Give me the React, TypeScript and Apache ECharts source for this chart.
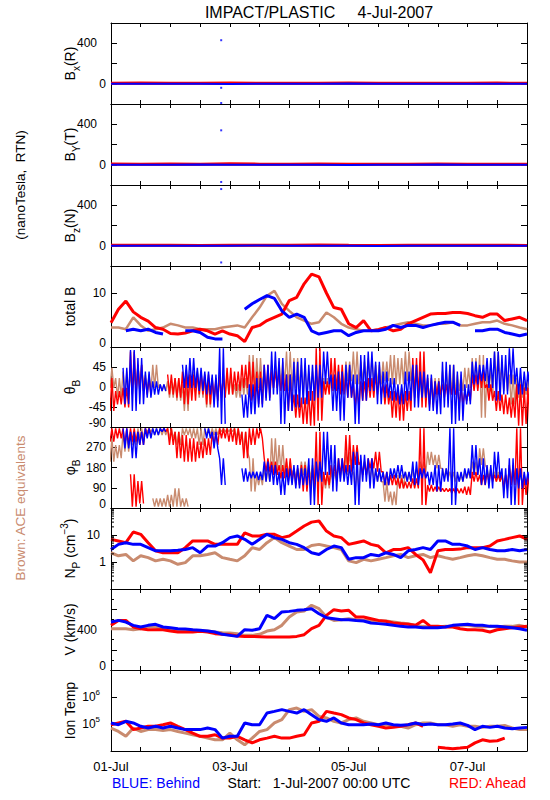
import React, { useEffect, useRef } from 'react';
import * as echarts from 'echarts';

const BLUE = '#0000ff';
const RED = '#ff0000';
const BROWN = '#c98b6f';
const FONT = "'Liberation Sans', Arial, Helvetica, sans-serif";

const STEP_H = 3; // sampling step of the field / plasma series (hours)
const B_STEP_H = 12; // sampling step of the RTN component series (hours)
const X_MAX_H = 168;
const X_TICK_H = 12;
const DATE_TICK_HOURS = [0, 48, 96, 144];
const DATE_TICK_LABELS = ['01-Jul', '03-Jul', '05-Jul', '07-Jul'];

// ---- RTN components (nT), every 12 h ----
const bxBlue = [0, -1, 1, 0, -2, 1, 0, -1, 2, 0, 1, -1, 0, 1, 0];
const bxRed = [5, 7, 4, 6, 8, 5, 4, 6, 7, 5, 4, 6, 5, 7, 4];
const bxBrown = [2, 3, 1, 2, 4, 2, 1, 3, 2, 1, 2, 3, 2, 1, 2];
const byBlue = [1, 0, -1, 2, 0, -1, 1, 0, -2, 1, 0, 2, -1, 0, 1];
const byRed = [8, 6, 7, 5, 9, 6, 5, 7, 4, 6, 5, 7, 6, 5, 6];
const byBrown = [3, 2, 4, 3, 2, 1, 3, 2, 4, 3, 2, 3, 1, 2, 3];
const bzBlue = [-1, 0, 1, -1, 0, 2, -1, 0, 1, -2, 0, 1, 0, -1, 0];
const bzRed = [4, 6, 5, 3, 6, 4, 5, 7, 4, 3, 5, 6, 4, 5, 3];
const bzBrown = [1, 2, 3, 1, 2, 1, 2, 3, 1, 2, 1, 2, 3, 1, 2];
const SPIKE_HOUR = 44.5;
const bxSpikes = [430, -40, -190];
const bySpikes = [340, -170];
const bzSpikes = [560, -165];

// ---- total B (nT), every 3 h ----
const totalBRed = [4.5, 7.0, 8.5, 6.5, 5.5, 4.8, 3.6, 3.3, 2.5, 2.4, 2.6, 3.0, 3.3, 3.0, 2.4, 3.0, 2.4, 2.1, 1.0, 3.6, 4.0, 4.9, 5.5, 6.1, 8.6, 9.2, 11.7, 13.5, 13.0, 10.0, 7.3, 7.0, 4.3, 3.6, 4.9, 3.0, 3.2, 3.6, 3.0, 3.3, 4.3, 4.9, 5.5, 6.1, 6.2, 6.2, 6.4, 6.4, 6.2, 5.8, 5.5, 6.1, 6.1, 4.9, 5.2, 5.5, 4.9];
const totalBBlue = [null, null, 3.0, 3.3, 3.0, 3.3, 2.7, 2.4, null, null, 3.0, 3.0, 2.7, 1.8, 1.5, 1.5, null, null, 7.0, 8.0, 8.8, 9.5, 9.0, 6.7, 5.5, 6.1, 5.5, 3.0, 2.4, 2.7, 3.0, 3.0, 2.1, 2.7, 3.0, 3.0, 3.0, 3.3, 4.0, 3.6, 4.0, 4.0, 3.6, 4.0, 4.3, 4.6, 4.6, 4.0, null, 3.0, 3.0, 3.3, 3.3, 2.7, 2.4, 2.1, 2.4];
const totalBBrown = [3.6, 3.6, 3.3, 5.5, 4.0, 3.0, 3.3, 3.6, 4.3, 4.0, 3.6, 3.6, 3.3, 3.3, 3.3, 3.6, 3.8, 4.0, 3.6, 5.5, 7.3, 9.5, 10.4, 8.0, 6.7, 5.5, 4.9, 4.3, 4.6, 6.4, 5.5, 4.3, 3.6, 3.3, 3.0, 3.0, 3.3, 3.6, 4.0, 4.3, 4.6, 4.3, 4.0, 4.0, 4.3, 4.3, 4.6, 4.0, 4.0, 4.3, 4.6, 4.6, 4.9, 4.3, 4.0, 3.6, 3.3];

// ---- theta_B (deg): upper / lower envelope per 3 h ----
const thetaRedHi = [20, -9, -2, 80, 50, 20, null, null, 28, 20, 35, 28, 35, 28, 20, 28, 43, 35, 50, 57, 35, 50, 35, 35, 28, -17, -24, -9, 87, 13, 65, 50, 28, 6, 13, 20, 28, 6, -9, -2, -9, 65, 80, 20, 13, 6, 13, -2, -9, 28, 35, 6, -9, -17, -24, 6, -2];
const thetaRedLo = [-54, -39, -46, -17, -9, -17, null, null, -17, -24, -39, -31, -17, -39, -31, -24, -17, -9, -2, -31, -39, -24, -2, -9, -54, -69, -83, -87, -76, -17, -9, -17, -24, -46, -31, -24, -17, -39, -69, -76, -54, -24, -46, -39, -17, -24, -17, -39, -31, -9, -2, -31, -54, -61, -69, -87, -83];
const thetaBlueHi = [null, null, 43, 83, 65, 35, 13, 6, null, null, 50, 65, 43, 35, 28, 87, null, null, -17, 6, 20, 50, 80, 65, 28, 57, 65, 50, 50, 80, 28, 35, 50, 28, 72, 80, 57, 35, 20, 6, 35, 50, 35, 28, 13, 57, 50, 35, 6, 57, 50, 65, 80, 72, 87, 43, 35];
const thetaBlueLo = [null, null, -39, -54, -39, -24, -17, -9, null, null, -2, -2, -9, -17, -46, -83, null, null, -69, -61, -46, -31, -17, -83, -54, -46, -39, -31, -24, 6, -54, -76, -24, -83, -31, -9, -39, -24, -31, -39, -31, -46, -24, -54, -61, -46, -83, -76, -39, 6, 13, -2, -31, -17, 6, -17, -9];
const thetaBrownHi = [43, 20, 35, 28, 50, 28, 50, 6, 13, 20, 6, 35, 28, 20, 13, 20, 28, 6, 20, 72, 65, 35, 50, 57, 80, 65, 50, 35, 28, 20, 28, 35, 57, 80, 57, 65, 50, 57, 72, 65, 80, 50, 20, 13, 20, 35, 50, 28, 43, 65, 72, 50, 80, 50, 28, 20, 13];
const thetaBrownLo = [-2, -24, -17, -2, -2, -9, -2, -9, -24, -31, -54, -9, -24, -46, -24, -17, -17, -24, -17, -9, -2, -9, -2, 6, -9, -2, -17, -9, -2, -9, -2, -9, 13, 6, 13, 13, 6, 13, 6, 6, 13, -9, -31, -46, -24, -17, -17, -9, -2, -2, -69, -24, 13, -9, -39, -24, -17];

// ---- phi_B (deg): upper / lower envelope per 3 h ----
const phiRedHi = [354, 354, 354, 354, 339, 354, null, 354, 354, 339, 324, 310, 295, 310, 339, 354, 354, 354, 339, 354, 354, 221, 206, 191, 221, 176, 191, 176, 339, 161, 191, 221, 324, 280, 206, 221, 250, 161, 147, 132, 117, 132, 354, 102, 95, 87, 87, 87, 95, 161, 147, 161, 147, 147, 191, 354, 147];
const phiRedLo = [295, 310, 280, 295, 280, 324, null, 339, 280, 221, 206, 206, 221, 236, 280, 310, 295, 280, 221, 280, 310, 161, 147, 132, 117, 102, 73, 87, 13, 102, 132, 147, 161, 191, 147, 176, 161, 102, 102, 87, 87, 87, 13, 73, 73, 73, 65, 65, 58, 117, 102, 117, 117, 87, 102, 13, 58];
const phiBlueHi = [null, null, 354, 339, 339, 354, 354, 354, null, null, null, null, null, 354, 339, 221, null, null, 176, 161, 161, 206, 191, 161, 176, 191, 176, 221, 206, 339, 280, 221, 191, 250, 236, 221, 176, 161, 176, 191, 161, 206, 176, 161, 191, 176, 354, 161, 176, 280, 221, 191, 250, 176, 221, 176, 161];
const phiBlueLo = [null, null, 265, 221, 280, 310, 324, 339, null, null, null, null, null, 310, 265, 102, null, null, 117, 132, 124, 117, 102, 58, 102, 87, 102, 13, 117, 147, 73, 117, 102, 13, 117, 87, 117, 102, 132, 132, 117, 102, 132, 102, 73, 117, 13, 117, 132, 147, 102, 87, 132, 43, 13, 87, 102];
const phiBrownHi = [310, 280, 339, 324, 354, 354, 354, 354, 354, 339, 354, 354, 354, 354, 354, 354, 354, 354, 339, 221, 147, 176, 310, 280, 206, 176, 206, 191, 161, 147, 161, 191, 250, 161, 206, 191, 161, 117, 73, 147, 161, 176, 206, 250, 236, 176, 161, 147, 161, 206, 265, 176, 161, 147, 176, 161, 147];
const phiBrownLo = [206, 221, 250, 280, 310, 339, 324, 324, 310, 280, 324, 310, 280, 324, 324, 339, 339, 310, 250, 73, 102, 117, 161, 161, 147, 132, 147, 132, 117, 87, 117, 132, 147, 87, 147, 132, 117, 28, 13, 87, 117, 132, 161, 191, 176, 132, 117, 117, 132, 147, 191, 132, 117, 102, 117, 102, 102];
// wrapped-around (near 0 deg) parts early in the interval
const PHI_RED_WRAP_START_BIN = 3;
const phiRedWrapHi = [150, 120];
const phiRedWrapLo = [6, 20];
const PHI_BROWN_WRAP_START_BIN = 6;
const phiBrownWrapHi = [43, 43, 58, 87, 43];
const phiBrownWrapLo = [6, 6, 6, 6, 6];

// ---- proton density (cm^-3), every 3 h ----
const npRed = [6.9, 6.0, 5.2, 12.9, 10.6, 5.2, 2.6, 2.2, 2.2, 2.2, 3.4, 6.0, 6.0, 6.0, 4.5, 4.5, 4.5, 4.5, 12, 9.2, 9.2, 10.6, 10.6, 8.0, 9.2, 14, 21.5, 30, 33, 14, 9.2, 8.0, 4.5, 5.2, 6.0, 4.5, 3.9, 2.2, 2.9, 2.9, 3.4, 1.9, 1.2, 0.4, 2.6, 2.9, 2.9, 3.0, 3.4, 3.4, 3.4, 3.9, 6.0, 6.9, 8.0, 9.2, 6.9];
const npBlue = [2.9, 4.5, 5.2, 4.5, 4.5, 3.4, 2.6, 2.6, 2.6, 2.7, 2.9, 3.4, 2.2, 3.9, 3.9, 5.2, 8.0, 9.2, 6.9, 4.5, 6.9, 10.6, 8.0, 6.9, 5.2, 4.5, 3.4, 2.2, 1.9, 2.9, 3.9, 3.4, 1.26, 1.45, 1.45, 1.9, 1.7, 2.2, 1.9, 1.45, 2.6, 2.9, 3.4, 2.9, 6.0, 6.0, 4.5, 4.5, 3.9, 2.9, 3.4, 2.9, 2.6, 2.6, 2.9, 2.6, 2.9];
const npBrown = [2.2, 1.7, 1.9, 1.1, 1.7, 1.45, 1.1, 1.26, 1.1, 0.82, 0.95, 1.7, 1.7, 1.9, 2.2, 1.45, 1.26, 1.1, 1.7, 3.4, 2.9, 5.2, 8.0, 5.2, 3.9, 2.9, 2.9, 4.1, 4.5, 3.9, 3.4, 2.9, 1.1, 0.95, 1.26, 1.1, 1.26, 1.45, 1.7, 1.9, 1.45, 1.7, 1.9, 1.45, 1.7, 1.45, 1.26, 1.45, 1.7, 1.9, 1.7, 1.45, 1.26, 1.26, 1.1, 1.0, 1.0];
const npMinorTicks = [0.2, 0.3, 0.4, 0.5, 0.6, 0.7, 0.8, 0.9, 2, 3, 4, 5, 6, 7, 8, 9, 20, 30, 40, 50, 60, 70, 80, 90];

// ---- bulk speed (km/s), every 3 h ----
const vRed = [441, 490, 490, 425, 408, 398, 398, 398, 385, 375, 375, 375, 382, 375, 359, 352, 349, 336, 332, 332, 329, 326, 326, 326, 326, 332, 349, 408, 441, 540, 596, 583, 589, 523, 523, 507, 490, 481, 464, 458, 451, 441, 490, 431, 431, 425, 425, 408, 398, 398, 392, 375, 398, 408, 418, 425, 431];
const vBlue = [474, 490, 474, 441, 425, 441, 451, 425, 418, 408, 405, 398, 392, 385, 375, 352, 342, 332, 398, 392, 408, 540, 507, 573, 579, 589, 596, 606, 556, 517, 507, 497, 497, 490, 484, 464, 458, 451, 441, 431, 425, 425, 418, 418, 418, 425, 441, 448, 451, 441, 441, 431, 431, 425, 418, 408, 392];
const vBrown = [408, 408, 408, 398, 408, 431, 425, 408, 398, 392, 392, 392, 385, 385, 375, 369, 365, 359, 342, 342, 352, 385, 398, 441, 523, 573, 583, 639, 606, 523, 490, 497, 507, 497, 490, 490, 484, 484, 474, 464, 458, 441, 431, 425, 425, 431, 431, 441, 441, 431, 425, 431, 425, 431, 431, 441, 425];

// ---- ion temperature (K), every 3 h ----
const tRed = [9.4e4, 1.09e5, 1.26e5, 6.2e4, 7.1e4, 8.2e4, 8.2e4, 9.4e4, 1.09e5, 8.2e4, 6.2e4, 4.6e4, 3.5e4, 3.5e4, 4.0e4, 3.0e4, 3.0e4, 3.5e4, 2.6e4, 2.0e4, 2.6e4, 3.0e4, 3.5e4, 3.0e4, 3.0e4, 3.5e4, 4.0e4, 1.09e5, 1.26e5, 2.94e5, 2.55e5, 2.22e5, 1.67e5, 1.45e5, 1.09e5, 9.4e4, 8.2e4, 7.1e4, 7.5e4, 8.2e4, 9.4e4, 1.09e5, 8.2e4, null, 1.37e4, 1.29e4, 1.22e4, 1.29e4, 1.37e4, 2.0e4, 2.6e4, 2.3e4, 2.4e4, 3.0e4, null, null, 1.09e5];
const tBlue = [1.09e5, 9.4e4, 1.26e5, 1.09e5, 8.2e4, 7.1e4, 8.2e4, 7.1e4, 8.2e4, 7.1e4, 6.2e4, 6.2e4, 6.2e4, 7.1e4, 6.2e4, 3.0e4, 3.5e4, 3.5e4, 1.09e5, 9.4e4, 9.4e4, 2.55e5, 2.94e5, 3.4e5, 2.94e5, 2.55e5, 3.4e5, 2.22e5, 1.45e5, 1.26e5, 1.67e5, 1.09e5, 9.4e4, 9.4e4, 9.4e4, 1.0e5, 9.4e4, 1.09e5, 9.4e4, 8.9e4, 9.4e4, 1.09e5, 9.4e4, 1.0e5, 9.4e4, 9.4e4, 1.0e5, 1.09e5, 8.9e4, 6.2e4, 8.2e4, 7.5e4, 8.2e4, 7.1e4, 6.7e4, 7.1e4, 7.5e4];
const tBrown = [7.1e4, 5.3e4, 3.5e4, 7.1e4, 5.3e4, 6.2e4, 6.2e4, 5.7e4, 6.2e4, 5.3e4, 4.6e4, 4.0e4, 3.5e4, 3.0e4, 2.6e4, 2.6e4, 4.6e4, 2.6e4, 1.7e4, 3.0e4, 5.3e4, 6.2e4, 1.09e5, 1.45e5, 3.4e5, 3.9e5, 2.94e5, 3.4e5, 1.92e5, 1.67e5, 1.26e5, 1.09e5, 1.45e5, 1.67e5, 1.26e5, 1.09e5, 9.4e4, 9.4e4, 8.2e4, 8.2e4, 7.1e4, 9.4e4, 1.09e5, 1.09e5, 9.4e4, 9.4e4, 8.2e4, 9.4e4, 8.2e4, 8.2e4, 7.5e4, 8.2e4, 8.2e4, 8.9e4, 7.1e4, 6.2e4, 6.2e4];

// ---- layout ----
const GRID_TOPS = [23, 104, 185, 266, 347, 427, 508, 589, 670, 751];
const GRID_LEFT = 111;
const GRID_RIGHT = 23;

const near = (a: number, b: number) => Math.abs(a - b) < 1e-6 * Math.max(1, Math.abs(b));

const seriesData = (vals: (number | null)[], step: number) =>
  vals.map((v, i) => [i * step, v == null ? '-' : v]);

const zigzag = (hi: (number | null)[], lo: (number | null)[], startBin = 0) => {
  const out: any[] = [];
  hi.forEach((h, k) => {
    const l = lo[k];
    const t = (startBin + k) * STEP_H;
    if (h == null || l == null) {
      out.push([t, '-']);
      return;
    }
    const q = STEP_H / 4;
    out.push([t - 1.5 * q, h], [t - 0.5 * q, l], [t + 0.5 * q, h], [t + 1.5 * q, l]);
  });
  return out;
};

const AXIS_RICH: any = {
  lo: { fontSize: 12, fontFamily: FONT, color: '#000', padding: [0, 0, 8, 0] },
  p9: { fontSize: 12, fontFamily: FONT, color: '#000', padding: [0, 9, 0, 0] },
  p6: { fontSize: 12, fontFamily: FONT, color: '#000', padding: [0, 6, 0, 0] },
  t: { fontSize: 12, fontFamily: FONT, color: '#000', lineHeight: 18 },
  sup: { fontSize: 8, fontFamily: FONT, color: '#000', lineHeight: 8, verticalAlign: 'top', padding: [0, 6, 0, 0] },
};

const NAME_RICH: any = {
  n: { fontSize: 14, fontFamily: FONT, fill: '#000', color: '#000', lineHeight: 22 },
  s: { fontSize: 10, fontFamily: FONT, fill: '#000', color: '#000', lineHeight: 10, verticalAlign: 'bottom' },
  u: { fontSize: 10, fontFamily: FONT, fill: '#000', color: '#000', lineHeight: 10, verticalAlign: 'top' },
};

type YCfg = { type: 'value' | 'log'; min: number; max: number; interval?: number; minor?: boolean; fmt: (v: number) => string };

const Y_CFGS: YCfg[] = [
  { type: 'value', min: -200, max: 600, interval: 200, fmt: (v) => (v === 0 ? '0' : v === 400 ? '{p9|400}' : '') },
  { type: 'value', min: -200, max: 600, interval: 200, fmt: (v) => (v === 0 ? '0' : v === 400 ? '{p9|400}' : '') },
  { type: 'value', min: -200, max: 600, interval: 200, fmt: (v) => (v === 0 ? '0' : v === 400 ? '{p9|400}' : '') },
  { type: 'value', min: 0, max: 15, interval: 10, fmt: (v) => (v === 0 ? '{lo|0}' : v === 10 ? '10' : '') },
  {
    type: 'value', min: -90, max: 90, interval: 45,
    fmt: (v) => (v === 45 ? '45' : v === 0 ? '0' : v === -45 ? '-45' : v === -90 ? '{lo|-90}' : ''),
  },
  {
    type: 'value', min: 0, max: 360, interval: 90,
    fmt: (v) => (v === 270 ? '270' : v === 180 ? '180' : v === 90 ? '90' : v === 0 ? '{lo|0}' : ''),
  },
  { type: 'log', min: 0.1, max: 100, fmt: (v) => (near(v, 10) ? '{p6|10}' : near(v, 1) ? '1' : '') },
  { type: 'value', min: 0, max: 800, interval: 200, minor: true, fmt: (v) => (v === 400 ? '{p9|400}' : v === 0 ? '{lo|0}' : '') },
  {
    type: 'log', min: 1e4, max: 1e7,
    fmt: (v) => (near(v, 1e5) ? '{t|10}{sup|5}' : near(v, 1e6) ? '{t|10}{sup|6}' : ''),
  },
];

const NAMES = [
  '{n|B}{s|x}{n|(R)}',
  '{n|B}{s|Y}{n|(T)}',
  '{n|B}{s|z}{n|(N)}',
  '{n|total B}',
  '{n|θ}{s|B}',
  '{n|φ}{s|B}',
  '{n|N}{s|P}{n| (cm}{u|−3}{n|)}',
  '{n|V (km/s)}',
  '{n|Ion Temp}',
];

const line = (i: number, data: any[], color: string, width: number, z = 2) => ({
  type: 'line',
  xAxisIndex: 2 * i,
  yAxisIndex: 2 * i,
  data,
  showSymbol: false,
  symbol: 'none',
  connectNulls: false,
  clip: true,
  silent: true,
  z,
  lineStyle: { color, width },
  itemStyle: { color },
  emphasis: { disabled: true },
});

const spikes = (i: number, vals: number[]) => ({
  type: 'scatter',
  xAxisIndex: 2 * i,
  yAxisIndex: 2 * i,
  data: vals.map((v) => [SPIKE_HOUR, v]),
  symbol: 'rect',
  symbolSize: 2,
  silent: true,
  z: 5,
  itemStyle: { color: BLUE },
});

const gtext = (text: string, x: number, y: number, o: any = {}) => ({
  type: 'text',
  x,
  y,
  rotation: o.rot || 0,
  silent: true,
  z: 100,
  style: {
    text,
    fill: o.color || '#000',
    fontSize: o.size || 14,
    fontFamily: FONT,
    align: o.align || 'center',
    verticalAlign: 'middle',
    textAlign: o.align || 'center',
    textVerticalAlign: 'middle',
    rich: o.rich,
  },
});

function buildOption() {
  const grids: any[] = [];
  const xAxes: any[] = [];
  const yAxes: any[] = [];
  const series: any[] = [];
  const texts: any[] = [];

  for (let i = 0; i < 9; i++) {
    const top = GRID_TOPS[i];
    const height = GRID_TOPS[i + 1] - top;
    grids.push({ left: GRID_LEFT, right: GRID_RIGHT, top, height, containLabel: false, outerBoundsMode: 'none', show: false });

    const xBase = {
      gridIndex: i,
      type: 'value',
      min: 0,
      max: X_MAX_H,
      interval: X_TICK_H,
      axisLine: { show: true, onZero: false, lineStyle: { color: '#000', width: 1 } },
      axisTick: { show: true, inside: true, length: 4, lineStyle: { color: '#000', width: 1 } },
      splitLine: { show: false },
    };
    const last = i === 8;
    xAxes.push({
      ...xBase,
      position: 'bottom',
      axisLabel: last
        ? {
            show: true,
            interval: 0,
            margin: 9,
            color: '#000',
            fontSize: 13,
            fontFamily: FONT,
            formatter: (v: number) => {
              const k = DATE_TICK_HOURS.indexOf(v);
              return k >= 0 ? DATE_TICK_LABELS[k] : '';
            },
          }
        : { show: false },
    });
    xAxes.push({ ...xBase, position: 'top', axisLabel: { show: false } });

    const c = Y_CFGS[i];
    const yBase: any = {
      gridIndex: i,
      type: c.type,
      min: c.min,
      max: c.max,
      axisLine: { show: true, onZero: false, lineStyle: { color: '#000', width: 1 } },
      axisTick: { show: true, inside: true, length: 6, lineStyle: { color: '#000', width: 1 } },
      minorTick: c.minor
        ? { show: true, splitNumber: 2, length: 3, lineStyle: { color: '#000', width: 1 } }
        : { show: false },
      splitLine: { show: false },
      minorSplitLine: { show: false },
    };
    if (c.interval) yBase.interval = c.interval;
    if (c.type === 'log') yBase.logBase = 10;
    yAxes.push({
      ...yBase,
      position: 'left',
      axisLabel: {
        show: true,
        margin: 5,
        color: '#000',
        fontSize: 12,
        fontFamily: FONT,
        formatter: c.fmt,
        rich: AXIS_RICH,
      },
    });
    yAxes.push({ ...yBase, position: 'right', axisLabel: { show: false } });

    texts.push(gtext(NAMES[i], 70, top + height / 2, { rot: Math.PI / 2, rich: NAME_RICH }));
  }

  // RTN components
  const comps: [number[], number[], number[], number[]][] = [
    [bxBrown, bxRed, bxBlue, bxSpikes],
    [byBrown, byRed, byBlue, bySpikes],
    [bzBrown, bzRed, bzBlue, bzSpikes],
  ];
  comps.forEach(([br, r, b, sp], i) => {
    series.push(line(i, seriesData(br, B_STEP_H), BROWN, 2, 2));
    series.push(line(i, seriesData(r, B_STEP_H), RED, 3, 3));
    series.push(line(i, seriesData(b, B_STEP_H), BLUE, 2, 4));
    series.push(spikes(i, sp));
  });

  // total B
  series.push(line(3, seriesData(totalBBrown, STEP_H), BROWN, 2.5, 2));
  series.push(line(3, seriesData(totalBRed, STEP_H), RED, 3, 3));
  series.push(line(3, seriesData(totalBBlue, STEP_H), BLUE, 3, 4));

  // theta
  const ZW = 1.4;
  series.push(line(4, zigzag(thetaBrownHi, thetaBrownLo), BROWN, ZW, 2));
  series.push(line(4, zigzag(thetaRedHi, thetaRedLo), RED, ZW, 3));
  series.push(line(4, zigzag(thetaBlueHi, thetaBlueLo), BLUE, ZW, 4));

  // phi
  series.push(line(5, zigzag(phiBrownHi, phiBrownLo), BROWN, ZW, 2));
  series.push(line(5, zigzag(phiBrownWrapHi, phiBrownWrapLo, PHI_BROWN_WRAP_START_BIN), BROWN, ZW, 2));
  series.push(line(5, zigzag(phiRedHi, phiRedLo), RED, ZW, 3));
  series.push(line(5, zigzag(phiRedWrapHi, phiRedWrapLo, PHI_RED_WRAP_START_BIN), RED, ZW, 3));
  series.push(line(5, zigzag(phiBlueHi, phiBlueLo), BLUE, ZW, 4));

  // Np
  series.push(line(6, seriesData(npBrown, STEP_H), BROWN, 3, 2));
  series.push(line(6, seriesData(npRed, STEP_H), RED, 3, 3));
  series.push(line(6, seriesData(npBlue, STEP_H), BLUE, 3, 4));
  series.push({
    type: 'custom',
    xAxisIndex: 12,
    yAxisIndex: 12,
    silent: true,
    clip: false,
    z: 10,
    data: npMinorTicks.map((v) => [0, v]),
    renderItem: (_p: any, api: any) => {
      const v = api.value(1);
      const a = api.coord([0, v]);
      const b = api.coord([X_MAX_H, v]);
      return {
        type: 'group',
        children: [
          { type: 'line', shape: { x1: a[0], y1: a[1], x2: a[0] + 3, y2: a[1] }, style: { stroke: '#000', lineWidth: 1 } },
          { type: 'line', shape: { x1: b[0] - 3, y1: b[1], x2: b[0], y2: b[1] }, style: { stroke: '#000', lineWidth: 1 } },
        ],
      };
    },
  });

  // V
  series.push(line(7, seriesData(vBrown, STEP_H), BROWN, 3, 2));
  series.push(line(7, seriesData(vRed, STEP_H), RED, 3, 3));
  series.push(line(7, seriesData(vBlue, STEP_H), BLUE, 3, 4));

  // Ion temperature
  series.push(line(8, seriesData(tBrown, STEP_H), BROWN, 3, 2));
  series.push(line(8, seriesData(tRed, STEP_H), RED, 3, 3));
  series.push(line(8, seriesData(tBlue, STEP_H), BLUE, 3, 4));

  // free texts
  texts.push(gtext('IMPACT/PLASTIC     4-Jul-2007', 319, 12, { size: 16 }));
  texts.push(gtext('(nanoTesla,  RTN)', 20, 185, { rot: Math.PI / 2, size: 13.5 }));
  texts.push(gtext('Brown: ACE equivalents', 20, 508, { rot: Math.PI / 2, size: 13.5, color: BROWN }));
  texts.push(gtext('BLUE: Behind', 112, 783, { size: 14, color: BLUE, align: 'left' }));
  texts.push(gtext('Start:   1-Jul-2007 00:00 UTC', 319, 783, { size: 14 }));
  texts.push(gtext('RED: Ahead', 526, 783, { size: 14, color: RED, align: 'right' }));

  return {
    animation: false,
    backgroundColor: '#ffffff',
    textStyle: { fontFamily: FONT },
    grid: grids,
    xAxis: xAxes,
    yAxis: yAxes,
    series,
    graphic: { elements: texts },
  };
}

export default function App() {
  const ref = useRef<HTMLDivElement>(null);
  useEffect(() => {
    if (!ref.current) return;
    const chart = echarts.init(ref.current, null, { renderer: 'svg' });
    chart.setOption(buildOption() as any);
    return () => chart.dispose();
  }, []);
  return (
    <div
      ref={ref}
      style={{ position: 'absolute', left: 0, top: 0, width: 550, height: 800, background: '#fff' }}
    />
  );
}
